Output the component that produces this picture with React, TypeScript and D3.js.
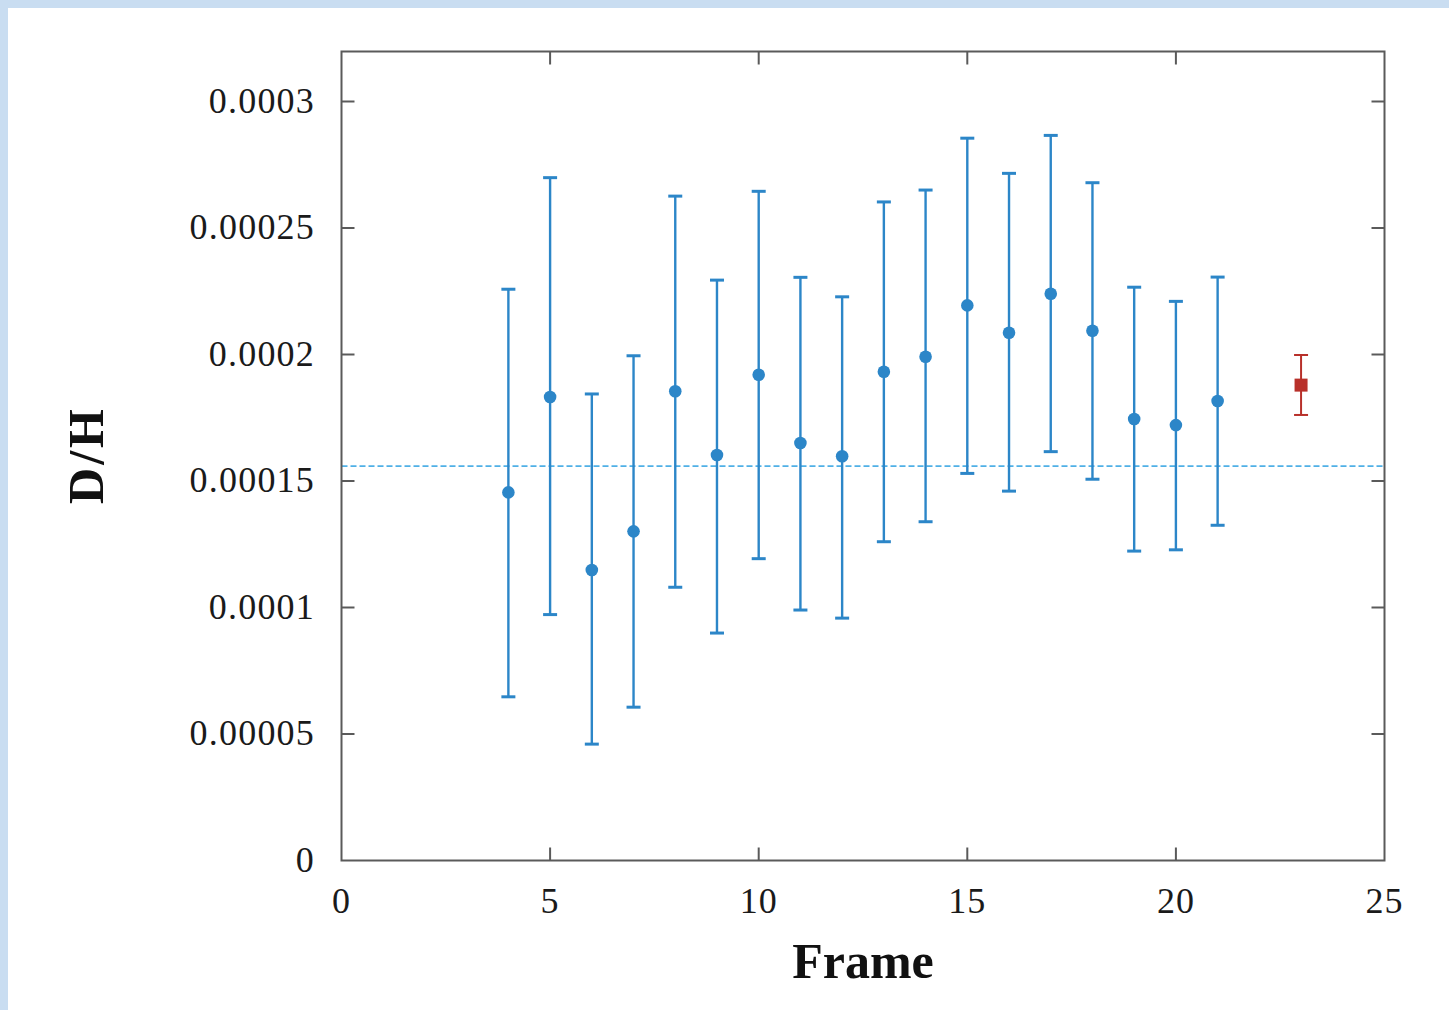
import React from "react";
import * as d3 from "d3";

const frames = [4, 5, 6, 7, 8, 9, 10, 11, 12, 13, 14, 15, 16, 17, 18, 19, 20, 21];
const dh = [14.55, 18.32, 11.48, 13.01, 18.55, 16.03, 19.2, 16.5, 15.98, 19.32, 19.91, 21.94, 20.86, 22.4, 20.94, 17.45, 17.21, 18.16].map((v) => v * 1e-5);
const dhHigh = [22.58, 26.99, 18.44, 19.95, 26.26, 22.94, 26.45, 23.05, 22.28, 26.03, 26.5, 28.55, 27.16, 28.66, 26.79, 22.66, 22.1, 23.06].map((v) => v * 1e-5);
const dhLow = [6.47, 9.72, 4.6, 6.06, 10.8, 8.99, 11.93, 9.9, 9.58, 12.6, 13.39, 15.3, 14.6, 16.16, 15.07, 12.23, 12.28, 13.25].map((v) => v * 1e-5);

const refFrame = [23];
const refValue = [18.79e-5];
const refHigh = [19.98e-5];
const refLow = [17.61e-5];

const baseline = 15.59e-5;

const xTicks = [0, 5, 10, 15, 20, 25];
const yTicks = [0, 0.00005, 0.0001, 0.00015, 0.0002, 0.00025, 0.0003];
const yTickLabels = ["0", "0.00005", "0.0001", "0.00015", "0.0002", "0.00025", "0.0003"];

const W = 1449;
const H = 1010;
const left = 341.5;
const right = 1384.5;
const top = 51.5;
const bottom = 860.5;

export default function App() {
  const x = d3.scaleLinear().domain([0, 25]).range([left, right]);
  const y = d3.scaleLinear().domain([0, 0.0003]).range([bottom, 101.5]);
  const blue = "#2c86c8";
  const red = "#b8302a";
  const axis = "#5a5a5a";
  const font = "'Liberation Serif', 'DejaVu Serif', serif";
  const tick = 13;
  const cap = 7;

  return (
    <svg width={W} height={H} style={{ position: "absolute", left: 0, top: 0 }}>
      <rect x={0} y={0} width={W} height={H} fill="#c9ddf1" />
      <rect x={8} y={8} width={W - 8} height={H - 8} fill="#ffffff" />

      {/* baseline dashed */}
      <line x1={left} x2={right} y1={y(baseline)} y2={y(baseline)} stroke="#4fb0e6" strokeWidth={1.8} strokeDasharray="6 3" />

      {/* error bars */}
      {frames.map((f, i) => (
        <g key={f} stroke={blue} strokeWidth={2.4}>
          <line x1={x(f)} x2={x(f)} y1={y(dhHigh[i])} y2={y(dhLow[i])} />
          <line x1={x(f) - cap} x2={x(f) + cap} y1={y(dhHigh[i])} y2={y(dhHigh[i])} strokeWidth={3} />
          <line x1={x(f) - cap} x2={x(f) + cap} y1={y(dhLow[i])} y2={y(dhLow[i])} strokeWidth={3} />
        </g>
      ))}
      {frames.map((f, i) => (
        <circle key={"c" + f} cx={x(f)} cy={y(dh[i])} r={6.3} fill={blue} />
      ))}

      {refFrame.map((f, i) => (
        <g key={"r" + f} stroke={red} strokeWidth={2}>
          <line x1={x(f)} x2={x(f)} y1={y(refHigh[i])} y2={y(refLow[i])} />
          <line x1={x(f) - cap} x2={x(f) + cap} y1={y(refHigh[i])} y2={y(refHigh[i])} />
          <line x1={x(f) - cap} x2={x(f) + cap} y1={y(refLow[i])} y2={y(refLow[i])} />
          <rect x={x(f) - 6.5} y={y(refValue[i]) - 6.5} width={13} height={13} fill={red} stroke="none" />
        </g>
      ))}

      {/* frame */}
      <rect x={left} y={top} width={right - left} height={bottom - top} fill="none" stroke={axis} strokeWidth={2} />

      {/* x ticks */}
      {xTicks.map((t) => (
        <g key={"xt" + t}>
          {t > 0 && t < 25 && (
            <>
              <line x1={x(t)} x2={x(t)} y1={bottom} y2={bottom - tick} stroke={axis} strokeWidth={2} />
              <line x1={x(t)} x2={x(t)} y1={top} y2={top + tick} stroke={axis} strokeWidth={2} />
            </>
          )}
          <text x={x(t)} y={913} textAnchor="middle" fontFamily={font} fontSize={36} letterSpacing={1} fill="#1a1a1a">
            {t}
          </text>
        </g>
      ))}

      {/* y ticks */}
      {yTicks.map((t, i) => (
        <g key={"yt" + t}>
          {i > 0 && (
            <>
              <line x1={left} x2={left + tick} y1={y(t)} y2={y(t)} stroke={axis} strokeWidth={2} />
              <line x1={right} x2={right - tick} y1={y(t)} y2={y(t)} stroke={axis} strokeWidth={2} />
            </>
          )}
          <text x={315} y={y(t) + 11} textAnchor="end" fontFamily={font} fontSize={36} letterSpacing={1.2} fill="#1a1a1a">
            {yTickLabels[i]}
          </text>
        </g>
      ))}

      <text x={863} y={978} textAnchor="middle" fontFamily={font} fontWeight="bold" fontSize={50} fill="#111">
        Frame
      </text>
      <text
        transform={`translate(103, 455) rotate(-90)`}
        textAnchor="middle"
        fontFamily={font}
        fontWeight="bold"
        fontSize={50}
        letterSpacing={3}
        fill="#111"
      >
        D/H
      </text>
    </svg>
  );
}
